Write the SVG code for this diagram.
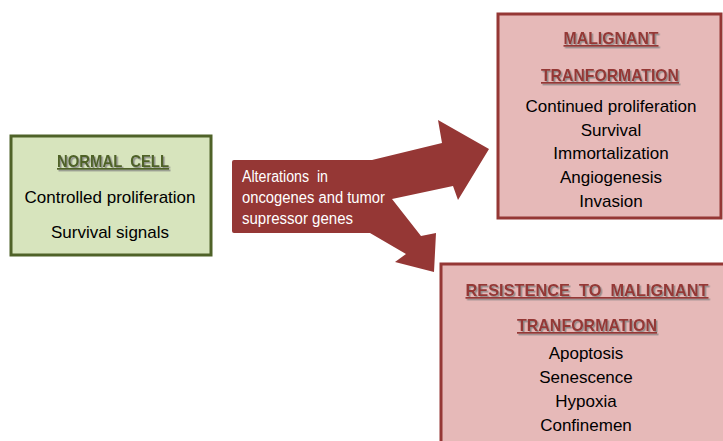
<svg xmlns="http://www.w3.org/2000/svg" width="723" height="441" viewBox="0 0 723 441">
<defs>
<filter id="shadow" x="-10%" y="-30%" width="120%" height="160%">
<feDropShadow dx="1.5" dy="1.5" stdDeviation="0.6" flood-color="#7f7f7f" flood-opacity="0.8"/>
</filter>
<style>
.body{font-family:"Liberation Sans",Arial,sans-serif;font-size:17px;fill:#000;text-anchor:middle}
.title{font-family:"Liberation Sans",Arial,sans-serif;font-size:17px;font-weight:bold;text-anchor:middle;text-decoration:underline;filter:url(#shadow)}
.green{fill:#4f6228}
.red{fill:#953735}
.gbox{fill:#d7e4bd;stroke:#4f6228;stroke-width:3}
.rbox{fill:#e6b9b8;stroke:#953735;stroke-width:3}
.arrowtxt{font-family:"Liberation Sans",Arial,sans-serif;font-size:16px;fill:#ffffff}
</style>
</defs>
<rect width="723" height="441" fill="#ffffff"/>

<g id="connectors">
<path d="M234,160 L372,160 L442,143 L438,120 L489,149 L458,200 L453,186 L392,199 L421,236 L436,233 L434,272 L395,262 L406,254 L370,233 L234,233 Q232,233 232,231 L232,162 Q232,160 234,160 Z" fill="#953735"/>
<text class="arrowtxt" x="242" y="182" xml:space="preserve" textLength="86" lengthAdjust="spacingAndGlyphs">Alterations  in</text>
<text class="arrowtxt" x="242" y="203" textLength="143" lengthAdjust="spacingAndGlyphs">oncogenes and tumor</text>
<text class="arrowtxt" x="242" y="224" textLength="111" lengthAdjust="spacingAndGlyphs">supressor genes</text>
</g>

<g id="normal-cell">
<rect class="gbox" x="11" y="136" width="200" height="119"/>
<text class="title green" x="113" y="167" xml:space="preserve" textLength="112" lengthAdjust="spacingAndGlyphs">NORMAL  CELL</text>
<text class="body" x="110" y="203">Controlled proliferation</text>
<text class="body" x="110" y="238">Survival signals</text>
</g>

<g id="malignant-transformation">
<rect class="rbox" x="498" y="14" width="223" height="204"/>
<text class="title red" x="611" y="44" textLength="95" lengthAdjust="spacingAndGlyphs">MALIGNANT</text>
<text class="title red" x="610" y="81" textLength="138" lengthAdjust="spacingAndGlyphs">TRANFORMATION</text>
<text class="body" x="611" y="112">Continued proliferation</text>
<text class="body" x="611" y="136">Survival</text>
<text class="body" x="611" y="159">Immortalization</text>
<text class="body" x="611" y="183">Angiogenesis</text>
<text class="body" x="611" y="207">Invasion</text>
</g>

<g id="resistance">
<rect class="rbox" x="441" y="264" width="290" height="190"/>
<text class="title red" x="587" y="296" xml:space="preserve" textLength="243" lengthAdjust="spacingAndGlyphs">RESISTENCE  TO  MALIGNANT</text>
<text class="title red" x="587" y="331" textLength="140" lengthAdjust="spacingAndGlyphs">TRANFORMATION</text>
<text class="body" x="586" y="359">Apoptosis</text>
<text class="body" x="586" y="383">Senescence</text>
<text class="body" x="586" y="407">Hypoxia</text>
<text class="body" x="586" y="431">Confinemen</text>
</g>
</svg>
